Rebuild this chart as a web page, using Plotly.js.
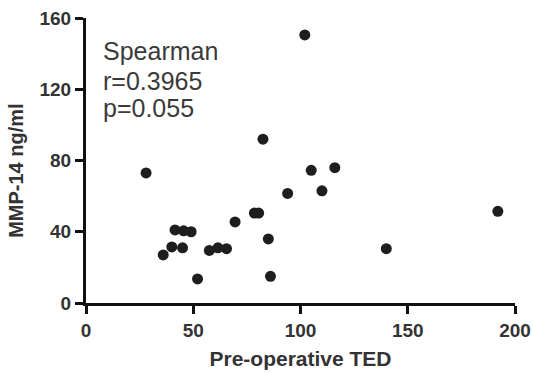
<!DOCTYPE html>
<html>
<head>
<meta charset="utf-8">
<script src="https://cdn.plot.ly/plotly-3.0.1.min.js"></script>
<style>html,body{margin:0;padding:0;background:#fff;}#chart{width:533px;height:373px;}</style>
</head>
<body>
<div id="chart"></div>
<script>
// Pre-operative TED (x) vs MMP-14 ng/ml (y)
var tedValues = [28, 36, 40, 41.5, 45, 45.5, 49, 52, 57.5, 61.5, 65.5, 69.5, 78.5, 80.5, 82.5, 85, 86, 94, 102, 105, 110, 116, 140, 192];
var mmpValues = [73, 27, 31.5, 41, 31, 40.5, 40, 13.5, 29.5, 31, 30.5, 45.5, 50.5, 50.5, 92, 36, 15, 61.5, 150.5, 74.5, 63, 76, 30.5, 51.5];
var xTicks = [0, 50, 100, 150, 200];
var yTicks = [0, 40, 80, 120, 160];
var statLines = ["Spearman", "r=0.3965", "p=0.055"];
var xTitle = "Pre-operative TED";
var yTitle = "MMP-14 ng/ml";

var fontFam = '"Liberation Sans", Arial, Helvetica, sans-serif';
var textColor = '#333333';

var trace = {
  x: tedValues,
  y: mmpValues,
  type: 'scatter',
  mode: 'markers',
  marker: {size: 11, color: '#1e1e1e'},
  hoverinfo: 'x+y'
};

var statY = [0.885, 0.78, 0.683];
var annotations = statLines.map(function(t, i) {
  return {
    text: t, xref: 'paper', yref: 'paper', x: 0.036, y: statY[i],
    xanchor: 'left', yanchor: 'middle', showarrow: false,
    font: {family: fontFam, size: 25, color: '#3a3a3a'}
  };
});
annotations.push({
  text: '<b>' + yTitle + '</b>', xref: 'paper', yref: 'paper', x: -0.162, y: 0.462,
  xanchor: 'center', yanchor: 'middle', textangle: -90, showarrow: false,
  font: {family: fontFam, size: 20, color: textColor}
});

var layout = {
  width: 533, height: 373,
  margin: {l: 86, r: 18, t: 18, b: 70},
  paper_bgcolor: '#ffffff', plot_bgcolor: '#ffffff',
  showlegend: false,
  font: {family: fontFam, color: textColor},
  xaxis: {
    range: [0, 200], tickvals: xTicks, ticktext: xTicks.map(String),
    showgrid: false, zeroline: false, showline: true, linecolor: '#111', linewidth: 3,
    ticks: 'outside', ticklen: 8, tickwidth: 3, tickcolor: '#111',
    tickfont: {family: fontFam, size: 19, color: textColor, weight: 'bold'},
    title: {text: '<b>' + xTitle + '</b>', font: {family: fontFam, size: 21, color: textColor}, standoff: 12},
    fixedrange: true
  },
  yaxis: {
    range: [0, 160], tickvals: yTicks, ticktext: yTicks.map(String),
    showgrid: false, zeroline: false, showline: true, linecolor: '#111', linewidth: 3,
    ticks: 'outside', ticklen: 8, tickwidth: 3, tickcolor: '#111',
    tickfont: {family: fontFam, size: 19, color: textColor, weight: 'bold'},
    fixedrange: true
  },
  annotations: annotations
};

Plotly.newPlot('chart', [trace], layout, {displayModeBar: false, staticPlot: true});
</script>
</body>
</html>
